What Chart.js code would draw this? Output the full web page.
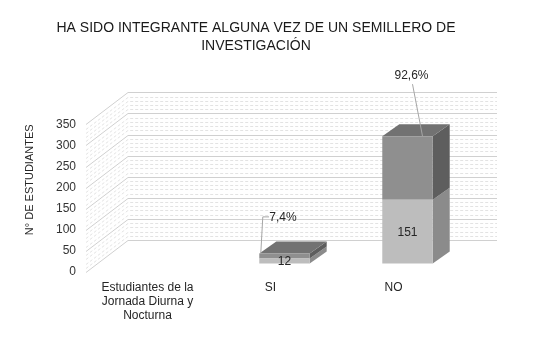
<!DOCTYPE html>
<html>
<head>
<meta charset="utf-8">
<script src="https://cdn.jsdelivr.net/npm/chart.js@4"></script>
<style>
  html, body { margin: 0; padding: 0; background: #fff; }
</style>
</head>
<body>
<canvas id="chart" width="550" height="339"></canvas>
<script>
// data
const categories = [['Estudiantes de la', 'Jornada Diurna y', 'Nocturna'], 'SI', 'NO'];
const studentCounts = [null, 12, 151];
const percentSeries = [null, 12, 151];
const percentLabels = ['', '7,4%', '92,6%'];
const yTicks = [0, 50, 100, 150, 200, 250, 300, 350];

// 3D look
const WALL_DEPTH = { x: 42, y: -32 };
const BAR_SHIFT = { x: 14, y: -8.5 };
const BAR_DEPTH = { x: 17, y: -12 };
const FACE = [
    { side: '#8b8b8b', top: '#9a9a9a' },
    { side: '#5e5e5e', top: '#727272' }
];
const LABEL_FONT = '12px "Liberation Sans", Arial, sans-serif';

function poly(ctx, pts, fill) {
    ctx.beginPath();
    ctx.moveTo(pts[0][0], pts[0][1]);
    for (let i = 1; i < pts.length; i++) ctx.lineTo(pts[i][0], pts[i][1]);
    ctx.closePath();
    ctx.fillStyle = fill;
    ctx.fill();
}

const threeD = {
    id: 'threeD',
    beforeDatasetsDraw(chart) {
        const { ctx, chartArea: a, scales: { y } } = chart;
        // side wall + back wall gridlines
        ctx.save();
        ctx.lineWidth = 1;
        for (let v = 0; v <= 350; v += 10) {
            const py = Math.round(y.getPixelForValue(v)) + 0.5;
            const major = v % 50 === 0;
            ctx.strokeStyle = major ? '#d0d0d0' : '#e3e3e3';
            ctx.setLineDash(major ? [] : [3, 2]);
            ctx.beginPath();
            ctx.moveTo(a.left, py);
            ctx.lineTo(a.left + WALL_DEPTH.x, py + WALL_DEPTH.y);
            ctx.lineTo(a.right + WALL_DEPTH.x, py + WALL_DEPTH.y);
            ctx.stroke();
        }
        ctx.restore();

        // bars sit half way into the depth; keep the shift for the library's own bars
        ctx.save();
        ctx.translate(BAR_SHIFT.x, BAR_SHIFT.y);
        const n = chart.data.datasets.length;
        chart.data.datasets.forEach((ds, di) => {
            chart.getDatasetMeta(di).data.forEach((bar, i) => {
                if (ds.data[i] == null) return;
                const l = bar.x - bar.width / 2, r = bar.x + bar.width / 2;
                const t = bar.y, b = bar.base;
                const dx = BAR_DEPTH.x, dy = BAR_DEPTH.y;
                poly(ctx, [[r, t], [r + dx, t + dy], [r + dx, b + dy], [r, b]], FACE[di].side);
                if (di === n - 1) {
                    poly(ctx, [[l, t], [r, t], [r + dx, t + dy], [l + dx, t + dy]], FACE[di].top);
                }
            });
        });
    },
    afterDatasetsDraw(chart) {
        const { ctx } = chart;
        ctx.restore();

        ctx.save();
        ctx.translate(BAR_SHIFT.x, BAR_SHIFT.y);
        ctx.font = LABEL_FONT;
        ctx.fillStyle = '#262626';
        ctx.textAlign = 'center';
        ctx.textBaseline = 'middle';

        // counts inside the lower segment
        chart.getDatasetMeta(0).data.forEach((bar, i) => {
            if (studentCounts[i] == null) return;
            ctx.fillText(String(studentCounts[i]), bar.x, (bar.y + bar.base) / 2 + 1);
        });

        // percentages above the stack, with leader lines
        const topMeta = chart.getDatasetMeta(1);
        ctx.strokeStyle = '#a6a6a6';
        ctx.lineWidth = 1;
        topMeta.data.forEach((bar, i) => {
            if (percentSeries[i] == null) return;
            const l = bar.x - bar.width / 2;
            if (i === 1) {
                const tx = bar.x - 1.5, ty = bar.y - 36;
                ctx.beginPath();
                ctx.moveTo(tx - 14, ty - 0.5);
                ctx.lineTo(l + 3.5, ty - 0.5);
                ctx.lineTo(l + 1.5, bar.y);
                ctx.stroke();
                ctx.fillText(percentLabels[i], tx, ty);
            } else {
                const tx = bar.x + 4, ty = bar.y - 60;
                ctx.beginPath();
                ctx.moveTo(tx + 1, ty + 8);
                ctx.lineTo(bar.x + 15, bar.y);
                ctx.stroke();
                ctx.fillText(percentLabels[i], tx, ty);
            }
        });
        ctx.restore();
    }
};

new Chart(document.getElementById('chart').getContext('2d'), {
    type: 'bar',
    data: {
        labels: categories,
        datasets: [{
            label: 'Estudiantes',
            data: studentCounts,
            backgroundColor: '#bdbdbd',
            borderWidth: 0,
            categoryPercentage: 1,
            barPercentage: 0.41,
            clip: false
        }, {
            label: 'Porcentaje',
            data: percentSeries,
            backgroundColor: '#8f8f8f',
            borderWidth: 0,
            categoryPercentage: 1,
            barPercentage: 0.41,
            clip: false
        }]
    },
    options: {
        responsive: false,
        animation: false,
        events: [],
        layout: { padding: { left: 0, right: 38, top: 0, bottom: 0 } },
        plugins: {
            legend: { display: false },
            tooltip: { enabled: false },
            title: {
                display: true,
                text: ['HA SIDO INTEGRANTE ALGUNA VEZ DE UN SEMILLERO DE', 'INVESTIGACIÓN'],
                color: '#1a1a1a',
                font: { family: '"Liberation Sans", Arial, sans-serif', size: 14, weight: 'normal', lineHeight: 1.3 },
                padding: { top: 19, bottom: 69 }
            }
        },
        scales: {
            x: {
                stacked: true,
                grid: { display: false, drawTicks: false },
                border: { display: false },
                ticks: {
                    color: '#262626',
                    padding: 8,
                    maxRotation: 0,
                    autoSkip: false,
                    font: { family: '"Liberation Sans", Arial, sans-serif', size: 12, lineHeight: 1.2 }
                },
                afterFit(scale) { scale.height = 67; }
            },
            y: {
                stacked: true,
                min: 0,
                max: 350,
                afterBuildTicks(scale) { scale.ticks = yTicks.map(v => ({ value: v })); },
                grid: { display: false, drawTicks: false },
                border: { display: false },
                ticks: {
                    color: '#333333',
                    padding: 10,
                    font: { family: '"Liberation Sans", Arial, sans-serif', size: 12 }
                },
                title: {
                    display: true,
                    text: 'N° DE ESTUDIANTES',
                    align: 'end',
                    color: '#262626',
                    padding: { top: 23, bottom: 0 },
                    font: { family: '"Liberation Sans", Arial, sans-serif', size: 11 }
                },
                afterFit(scale) { scale.width = 86; }
            },
            spacer: {
                type: 'linear',
                position: 'right',
                display: true,
                grid: { display: false, drawTicks: false },
                border: { display: false },
                ticks: { display: false },
                afterFit(scale) { scale.width = 57; }
            }
        }
    },
    plugins: [threeD]
});
</script>
</body>
</html>
